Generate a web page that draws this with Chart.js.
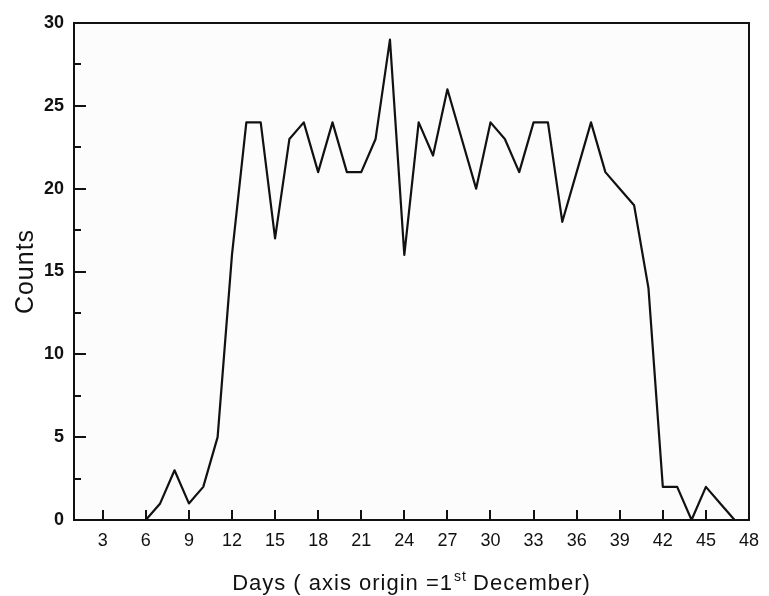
<!DOCTYPE html>
<html>
<head>
<meta charset="utf-8">
<script src="https://cdn.jsdelivr.net/npm/chart.js@4/dist/chart.umd.min.js"></script>
<style>
  html, body { margin: 0; padding: 0; background: #fff; }
  #wrap { width: 769px; height: 596px; }
</style>
</head>
<body>
<div id="wrap"><canvas id="myChart" width="769" height="596"></canvas></div>
<script>
// Data: daily counts from day 6 to day 47
const days = [6, 7, 8, 9, 10, 11, 12, 13, 14, 15, 16, 17, 18, 19, 20, 21, 22, 23, 24, 25, 26,
  27, 28, 29, 30, 31, 32, 33, 34, 35, 36, 37, 38, 39, 40, 41, 42, 43, 44, 45, 46, 47];
const counts = [0, 1, 3, 1, 2, 5, 16, 24, 24, 17, 23, 24, 21, 24, 21, 21, 23, 29, 16, 24, 22,
  26, 23, 20, 24, 23, 21, 24, 24, 18, 21, 24, 21, 20, 19, 14, 2, 2, 0, 2, 1, 0];

// Tick labels
const xTicks = [3, 6, 9, 12, 15, 18, 21, 24, 27, 30, 33, 36, 39, 42, 45, 48];
const yTicks = [0, 5, 10, 15, 20, 25, 30];
const yMinorTicks = [2.5, 7.5, 12.5, 17.5, 22.5, 27.5];

const INK = '#111';
const FAMILY = '"Liberation Sans", Arial, sans-serif';

// Frame, inward ticks and both axis titles (x title has a superscript)
const framePlugin = {
  id: 'framePlugin',
  beforeDraw(chart) {
    const { ctx, chartArea: { top, bottom, left, right } } = chart;
    ctx.save();
    ctx.fillStyle = '#fcfcfc';
    ctx.fillRect(left, top, right - left, bottom - top);
    ctx.restore();
  },
  afterDraw(chart) {
    const { ctx, chartArea: { top, bottom, left, right }, scales: { x, y } } = chart;
    ctx.save();
    ctx.strokeStyle = INK;
    ctx.lineWidth = 2;
    ctx.strokeRect(left, top, right - left, bottom - top);

    ctx.beginPath();
    xTicks.forEach(v => {
      const px = Math.round(x.getPixelForValue(v));
      ctx.moveTo(px, bottom);
      ctx.lineTo(px, bottom - 10);
    });
    yTicks.forEach(v => {
      const py = Math.round(y.getPixelForValue(v));
      ctx.moveTo(left, py);
      ctx.lineTo(left + 12, py);
    });
    yMinorTicks.forEach(v => {
      const py = Math.round(y.getPixelForValue(v));
      ctx.moveTo(left, py);
      ctx.lineTo(left + 7, py);
    });
    ctx.stroke();

    ctx.fillStyle = INK;
    ctx.textBaseline = 'alphabetic';
    ctx.textAlign = 'left';
    ctx.letterSpacing = '1px';

    // x axis title: "Days ( axis origin =1st December)"
    const part1 = 'Days ( axis origin =1';
    const sup = 'st';
    const part2 = ' December)';
    const big = '22px ' + FAMILY;
    const small = '14px ' + FAMILY;
    ctx.font = big;
    const w1 = ctx.measureText(part1).width;
    const w3 = ctx.measureText(part2).width;
    ctx.font = small;
    const w2 = ctx.measureText(sup).width;
    let tx = (left + right) / 2 - (w1 + w2 + w3) / 2;
    const base = 590;
    ctx.font = big;
    ctx.fillText(part1, tx, base);
    tx += w1;
    ctx.font = small;
    ctx.fillText(sup, tx + 1, base - 9);
    tx += w2;
    ctx.font = big;
    ctx.fillText(part2, tx, base);

    // y axis title
    ctx.translate(33, (top + bottom) / 2);
    ctx.rotate(-Math.PI / 2);
    ctx.textAlign = 'center';
    ctx.font = '25px ' + FAMILY;
    ctx.fillText('Counts', 0, 0);
    ctx.restore();
  }
};

new Chart('myChart', {
  type: 'line',
  data: {
    datasets: [{
      data: days.map((d, i) => ({ x: d, y: counts[i] })),
      borderColor: INK,
      borderWidth: 2.2,
      borderJoinStyle: 'round',
      pointRadius: 0,
      fill: false,
      tension: 0
    }]
  },
  options: {
    responsive: false,
    animation: false,
    layout: { padding: { top: 23, right: 17, left: 0, bottom: 0 } },
    plugins: {
      legend: { display: false },
      tooltip: { enabled: false }
    },
    scales: {
      x: {
        type: 'linear',
        min: 1,
        max: 48,
        afterBuildTicks(scale) { scale.ticks = xTicks.map(v => ({ value: v })); },
        afterFit(scale) { scale.height = 76; },
        grid: { display: false, drawTicks: false },
        border: { display: false },
        ticks: {
          autoSkip: false,
          maxRotation: 0,
          padding: 10,
          color: INK,
          font: { family: FAMILY, size: 18 }
        }
      },
      y: {
        min: 0,
        max: 30,
        afterBuildTicks(scale) { scale.ticks = yTicks.map(v => ({ value: v })); },
        afterFit(scale) { scale.width = 74; },
        grid: { display: false, drawTicks: false },
        border: { display: false },
        ticks: {
          padding: 10,
          color: INK,
          font: { family: FAMILY, size: 18, weight: 'bold' }
        }
      }
    }
  },
  plugins: [framePlugin]
});
</script>
</body>
</html>
